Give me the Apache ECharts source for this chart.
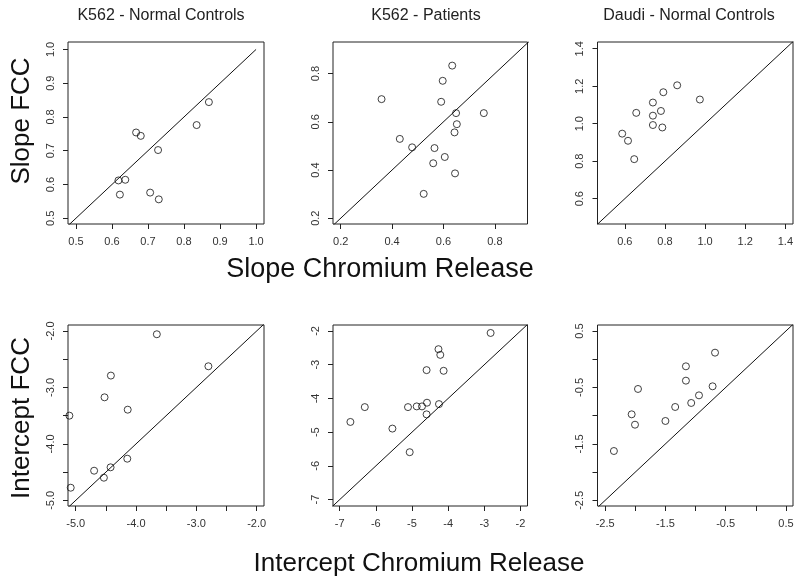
<!DOCTYPE html>
<html><head><meta charset="utf-8">
<script src="https://cdn.jsdelivr.net/npm/echarts@6/dist/echarts.min.js"></script>
<style>html,body{margin:0;padding:0;background:#fff}#c{width:800px;height:582px}</style>
</head><body><div id="c"></div>
<script>
// ---- Data ----
const panelTitles = ["K562 - Normal Controls", "K562 - Patients", "Daudi - Normal Controls"];
const rowYTitles = ["Slope FCC", "Intercept FCC"];
const rowXTitles = ["Slope Chromium Release", "Intercept Chromium Release"];

const p1X = [0.667,0.680,0.728,0.835,0.869,0.618,0.637,0.622,0.706,0.730];
const p1Y = [0.754,0.744,0.702,0.776,0.844,0.612,0.614,0.570,0.576,0.556];
const p2X = [0.634,0.597,0.359,0.591,0.649,0.757,0.652,0.643,0.430,0.478,0.565,0.605,0.560,0.645,0.523];
const p2Y = [0.833,0.770,0.694,0.683,0.636,0.636,0.590,0.556,0.529,0.494,0.491,0.454,0.428,0.386,0.301];
const p3X = [0.861,0.792,0.974,0.740,0.657,0.780,0.740,0.740,0.787,0.587,0.616,0.647];
const p3Y = [1.205,1.168,1.129,1.113,1.058,1.068,1.043,0.993,0.980,0.947,0.909,0.811];
const p4X = [-3.655,-2.80,-4.417,-4.522,-4.138,-5.105,-4.145,-4.422,-4.695,-4.533,-5.083];
const p4Y = [-2.058,-2.625,-2.79,-3.175,-3.394,-3.50,-4.262,-4.415,-4.475,-4.599,-4.776];
const p5X = [-2.826,-4.268,-4.218,-4.597,-4.126,-4.586,-4.254,-6.306,-5.111,-4.87,-4.724,-4.597,-6.704,-5.542,-5.064];
const p5Y = [-2.059,-2.54,-2.709,-3.161,-3.181,-4.127,-4.168,-4.257,-4.257,-4.236,-4.236,-4.472,-4.697,-4.894,-5.594];
const p6X = [-0.677,-1.16,-1.16,-1.955,-0.717,-0.943,-1.072,-1.338,-2.06,-1.5,-2.005,-2.355];
const p6Y = [0.116,-0.126,-0.380,-0.527,-0.48,-0.64,-0.775,-0.846,-0.976,-1.094,-1.160,-1.626];

// identity line end points (x = y)
const diag1 = [0, 1];
const diag2 = [0, 1];
const diag3 = [0, 2];
const diag4 = [-8, 0];
const diag5 = [-8, 0];
const diag6 = [-3, 1];

// axis ranges
const p1XRange = [0.478, 1.022], p1YRange = [0.483, 1.022];
const p2XRange = [0.170, 0.927], p2YRange = [0.176, 0.931];
const p3XRange = [0.464, 1.438], p3YRange = [0.465, 1.436];
const p4XRange = [-5.128, -1.878], p4YRange = [-5.10, -1.894];
const p5XRange = [-7.185, -1.806], p5YRange = [-7.189, -1.823];
const p6XRange = [-2.627, 0.617], p6YRange = [-2.60, 0.606];

// ticks & labels
const p1Ticks = [0.5,0.6,0.7,0.8,0.9,1.0];
const p1Labels = [0.5,0.6,0.7,0.8,0.9,1.0];
const p2Ticks = [0.2,0.4,0.6,0.8];
const p2Labels = [0.2,0.4,0.6,0.8];
const p3Ticks = [0.6,0.8,1.0,1.2,1.4];
const p3Labels = [0.6,0.8,1.0,1.2,1.4];
const p4Ticks = [-5.0,-4.5,-4.0,-3.5,-3.0,-2.5,-2.0];
const p4Labels = [-5.0,-4.0,-3.0,-2.0];
const p5Ticks = [-7,-6,-5,-4,-3,-2];
const p5Labels = [-7,-6,-5,-4,-3,-2];
const p6Ticks = [-2.5,-2.0,-1.5,-1.0,-0.5,0.0,0.5];
const p6Labels = [-2.5,-1.5,-0.5,0.5];

// ---- Build ----
const FONT = "'Liberation Sans', Arial, Helvetica, sans-serif";
const panels = [
  {x:p1X,y:p1Y,d:diag1,xr:p1XRange,yr:p1YRange,t:p1Ticks,l:p1Labels,dec:1},
  {x:p2X,y:p2Y,d:diag2,xr:p2XRange,yr:p2YRange,t:p2Ticks,l:p2Labels,dec:1},
  {x:p3X,y:p3Y,d:diag3,xr:p3XRange,yr:p3YRange,t:p3Ticks,l:p3Labels,dec:1},
  {x:p4X,y:p4Y,d:diag4,xr:p4XRange,yr:p4YRange,t:p4Ticks,l:p4Labels,dec:1},
  {x:p5X,y:p5Y,d:diag5,xr:p5XRange,yr:p5YRange,t:p5Ticks,l:p5Labels,dec:0},
  {x:p6X,y:p6Y,d:diag6,xr:p6XRange,yr:p6YRange,t:p6Ticks,l:p6Labels,dec:1}
];
const colLeft = [68, 333, 597.5], colWidth = [196, 194.5, 195.5];
const rowTop = [42, 325], rowHeight = [182, 181];

const grids = [], xAxes = [], yAxes = [], series = [];
panels.forEach((p, i) => {
  const c = i % 3, r = Math.floor(i / 3);
  grids.push({left: colLeft[c], top: rowTop[r], width: colWidth[c], height: rowHeight[r],
    show: true, borderColor: '#222', borderWidth: 1, backgroundColor: 'transparent', containLabel: false});
  const common = (rng, isY) => ({
    type: 'value', gridIndex: i, min: rng[0], max: rng[1], scale: true,
    axisLine: {show: false, onZero: false},
    splitLine: {show: false},
    axisTick: {show: true, inside: false, length: 5, customValues: p.t, lineStyle: {color: '#222', width: 1}},
    axisLabel: {show: true, customValues: p.l, margin: 12, rotate: isY ? 90 : 0,
      color: '#333', fontSize: 11, fontFamily: FONT, hideOverlap: false,
      formatter: v => Number(v).toFixed(p.dec)}
  });
  xAxes.push(common(p.xr, false));
  yAxes.push(common(p.yr, true));
  series.push({type: 'line', xAxisIndex: i, yAxisIndex: i, data: [[p.d[0], p.d[0]], [p.d[1], p.d[1]]],
    symbol: 'none', clip: true, silent: true, lineStyle: {color: '#111', width: 1}, z: 2});
  series.push({type: 'scatter', xAxisIndex: i, yAxisIndex: i, data: p.x.map((v, k) => [v, p.y[k]]),
    symbol: 'circle', symbolSize: 7, clip: false, silent: true,
    itemStyle: {color: 'rgba(0,0,0,0)', borderColor: '#111', borderWidth: 1}, z: 3});
});

const graphics = [];
const titleX = [161, 426, 689];
panelTitles.forEach((t, i) => graphics.push({type: 'text', x: titleX[i], y: 16,
  style: {text: t, font: '16px ' + FONT, fill: '#222', textAlign: 'center', textVerticalAlign: 'middle'}}));
const yTitleY = [121, 418];
rowYTitles.forEach((t, i) => graphics.push({type: 'text', x: 22, y: yTitleY[i], rotation: Math.PI / 2,
  style: {text: t, font: '26px ' + FONT, fill: '#111', textAlign: 'center', textVerticalAlign: 'middle'}}));
const xTitlePos = [[380, 270, 27], [419, 564, 26]];
rowXTitles.forEach((t, i) => graphics.push({type: 'text', x: xTitlePos[i][0], y: xTitlePos[i][1],
  style: {text: t, font: xTitlePos[i][2] + 'px ' + FONT, fill: '#111', textAlign: 'center', textVerticalAlign: 'middle'}}));

const chart = echarts.init(document.getElementById('c'), null, {renderer: 'canvas'});
chart.setOption({
  animation: false,
  backgroundColor: '#fff',
  grid: grids, xAxis: xAxes, yAxis: yAxes, series: series,
  graphic: graphics
});
</script></body></html>
